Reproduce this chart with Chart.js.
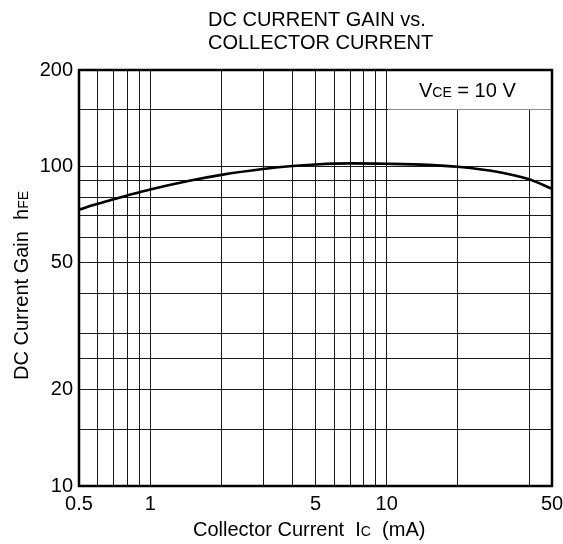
<!DOCTYPE html>
<html><head><meta charset="utf-8">
<script src="https://cdn.jsdelivr.net/npm/chart.js@4"></script>
<style>html,body{margin:0;padding:0;background:#fff}canvas{display:block}</style>
</head><body>
<canvas id="c" width="563" height="544"></canvas>
<script>
const currentMA = [0.5, 0.6, 0.7, 0.8, 1, 1.5, 2, 3, 4, 5, 7, 10, 15, 20, 30, 40, 50];
const gainHFE   = [73.2, 76.3, 78.8, 81.0, 84.6, 90.4, 94.0, 98.0, 100.2, 101.3, 102.1, 101.8, 101.0, 99.6, 95.8, 91.0, 85.0];
const xGridValues = [0.5, 0.6, 0.7, 0.8, 0.9, 1, 2, 3, 4, 5, 6, 7, 8, 9, 10, 20, 40, 50];
const xTickLabels = [0.5, 1, 5, 10, 50];
const yGridValues = [10, 15, 20, 25, 30, 40, 50, 60, 70, 80, 90, 100, 150, 200];
const yTickLabels = [10, 20, 50, 100, 200];

const FONT = '"Liberation Sans", Arial, sans-serif';

function drawSegs(ctx, segs, x, y) {
  let cx = x;
  for (const s of segs) {
    ctx.font = s.size + 'px ' + FONT;
    ctx.fillText(s.t, cx, y);
    cx += ctx.measureText(s.t).width;
  }
}

const decorPlugin = {
  id: 'decor',
  beforeDatasetsDraw(chart) {
    const {ctx, chartArea: a, scales: {x, y}} = chart;
    const x10 = x.getPixelForValue(10), y150 = y.getPixelForValue(150);
    ctx.save();
    ctx.fillStyle = '#fff';
    ctx.fillRect(Math.round(x10) + 1, a.top, a.right - Math.round(x10) - 1, Math.round(y150) - a.top - 0.5);
    ctx.restore();
  },
  afterDraw(chart) {
    const {ctx, chartArea: a} = chart;
    ctx.save();
    ctx.strokeStyle = '#000';
    ctx.lineWidth = 2.5;
    ctx.strokeRect(a.left, a.top, a.right - a.left, a.bottom - a.top);
    ctx.fillStyle = '#000';
    ctx.textBaseline = 'alphabetic';
    ctx.textAlign = 'left';
    drawSegs(ctx, [{t: 'DC CURRENT GAIN vs.', size: 20}], 208, 26);
    drawSegs(ctx, [{t: 'COLLECTOR CURRENT', size: 20}], 208, 49);
    drawSegs(ctx, [{t: 'V', size: 20}, {t: 'CE', size: 14}, {t: ' = 10 V', size: 20}], 419, 97);
    drawSegs(ctx, [{t: 'Collector Current  I', size: 20}, {t: 'C', size: 14}, {t: '  (mA)', size: 20}], 193, 536);
    ctx.translate(28, 380);
    ctx.rotate(-Math.PI / 2);
    drawSegs(ctx, [{t: 'DC Current Gain  h', size: 20}, {t: 'FE', size: 14}], 0, 0);
    ctx.restore();
  }
};

new Chart(document.getElementById('c'), {
  type: 'line',
  data: {
    datasets: [{
      data: currentMA.map((v, i) => ({x: v, y: gainHFE[i]})),
      borderColor: '#000',
      borderWidth: 2.6,
      pointRadius: 0,
      fill: false,
      cubicInterpolationMode: 'monotone'
    }]
  },
  options: {
    responsive: false,
    animation: false,
    devicePixelRatio: 1,
    layout: {padding: {left: 0, top: 70, right: 11, bottom: 0}},
    plugins: {legend: {display: false}, tooltip: {enabled: false}, title: {display: false}},
    scales: {
      x: {
        type: 'logarithmic',
        min: 0.5, max: 50,
        afterBuildTicks: s => { s.ticks = xGridValues.map(v => ({value: v})); },
        afterFit: s => { s.height = 58; s.paddingLeft = 0; s.paddingRight = 0; },
        ticks: {
          autoSkip: false, maxRotation: 0, padding: 6, color: '#000',
          font: {family: FONT, size: 20},
          callback: v => xTickLabels.includes(v) ? String(v) : ''
        },
        grid: {color: '#1a1a1a', lineWidth: 1, drawTicks: false},
        border: {display: false}
      },
      y: {
        type: 'logarithmic',
        min: 10, max: 200,
        afterBuildTicks: s => { s.ticks = yGridValues.map(v => ({value: v})); },
        afterFit: s => { s.width = 79; s.paddingTop = 0; s.paddingBottom = 0; },
        ticks: {
          autoSkip: false, padding: 6, color: '#000',
          font: {family: FONT, size: 20},
          callback: v => yTickLabels.includes(v) ? String(v) : ''
        },
        grid: {color: '#1a1a1a', lineWidth: 1, drawTicks: false},
        border: {display: false}
      }
    }
  },
  plugins: [decorPlugin]
});
</script>
</body></html>
